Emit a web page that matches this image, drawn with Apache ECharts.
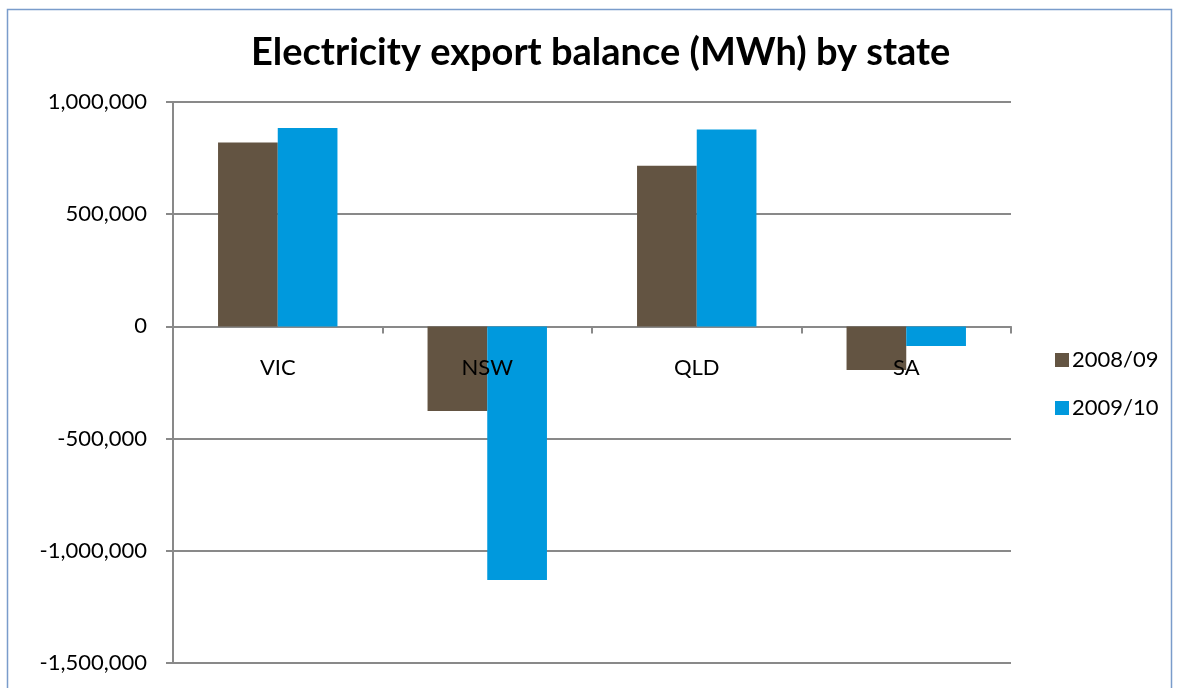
<!DOCTYPE html>
<html>
<head>
<meta charset="utf-8">
<script src="https://cdn.jsdelivr.net/npm/echarts@6/dist/echarts.min.js"></script>
<style>
  html, body { margin: 0; padding: 0; background: #fff; }
  #chart { width: 1180px; height: 688px; }
</style>
</head>
<body>
<div id="chart"></div>
<script>
// Net electricity export balance per state, MWh
const states = ['VIC', 'NSW', 'QLD', 'SA'];
const fy2008_09 = [820000, -377000, 716000, -194000];
const fy2009_10 = [884000, -1130000, 878000, -87000];
const seriesNames = ['2008/09', '2009/10'];
const seriesColors = ['#635442', '#0099DD'];
const yTicks = { min: -1500000, max: 1000000, step: 500000 };

const FONT = 'Lato, "Open Sans", "Liberation Sans", sans-serif';
const GRID = { left: 173, right: 169, top: 102, bottom: 25 };
const plotHeight = 688 - GRID.top - GRID.bottom;
// distance from the bottom of the plot up to the zero line
const zeroOffset = plotHeight * (0 - yTicks.min) / (yTicks.max - yTicks.min);

const chart = echarts.init(document.getElementById('chart'), null, { renderer: 'canvas' });

chart.setOption({
  animation: false,
  backgroundColor: '#ffffff',
  textStyle: { fontFamily: FONT },
  graphic: [{
    type: 'rect',
    shape: { x: 7.5, y: 9.5, width: 1164, height: 690 },
    style: { fill: 'none', stroke: '#7A9CCB', lineWidth: 1.5 },
    silent: true
  }],
  title: {
    text: 'Electricity export balance (MWh) by state',
    left: 246,
    top: 29,
    textStyle: { fontFamily: FONT, fontSize: 38, fontWeight: 'bold', color: '#000' }
  },
  legend: {
    orient: 'vertical',
    left: 1050,
    top: 344,
    itemWidth: 14,
    itemHeight: 14,
    itemGap: 26,
    icon: 'rect',
    data: seriesNames,
    textStyle: { fontFamily: FONT, fontSize: 22, color: '#000', padding: [0, 0, 0, -2] }
  },
  grid: Object.assign({ containLabel: false, outerBoundsMode: 'none' }, GRID),
  xAxis: [
    {
      type: 'category',
      data: states,
      axisLine: { onZero: true, lineStyle: { color: '#898989', width: 2 } },
      axisTick: { show: true, alignWithLabel: false, length: 7, lineStyle: { color: '#898989', width: 2 } },
      axisLabel: { show: false },
      splitLine: { show: false }
    },
    {
      // category names sitting just under the zero line, drawn over the bars
      type: 'category',
      data: states,
      position: 'bottom',
      offset: -zeroOffset,
      z: 20,
      axisLine: { show: false },
      axisTick: { show: false },
      axisLabel: { fontFamily: FONT, fontSize: 22, color: '#000', margin: 31 },
      splitLine: { show: false }
    }
  ],
  yAxis: {
    type: 'value',
    min: yTicks.min,
    max: yTicks.max,
    interval: yTicks.step,
    axisLine: { show: true, lineStyle: { color: '#898989', width: 2 } },
    axisTick: { show: true, length: 7, lineStyle: { color: '#898989', width: 2 } },
    axisLabel: {
      fontFamily: FONT, fontSize: 22, color: '#000', margin: 26,
      formatter: v => v.toLocaleString('en-US')
    },
    splitLine: { show: true, lineStyle: { color: '#898989', width: 2 } }
  },
  series: [
    {
      name: seriesNames[0], type: 'bar', data: fy2008_09,
      itemStyle: { color: seriesColors[0] },
      barGap: '0%', barCategoryGap: '43%'
    },
    {
      name: seriesNames[1], type: 'bar', data: fy2009_10,
      itemStyle: { color: seriesColors[1] },
      barGap: '0%', barCategoryGap: '43%'
    }
  ]
});
</script>
</body>
</html>
